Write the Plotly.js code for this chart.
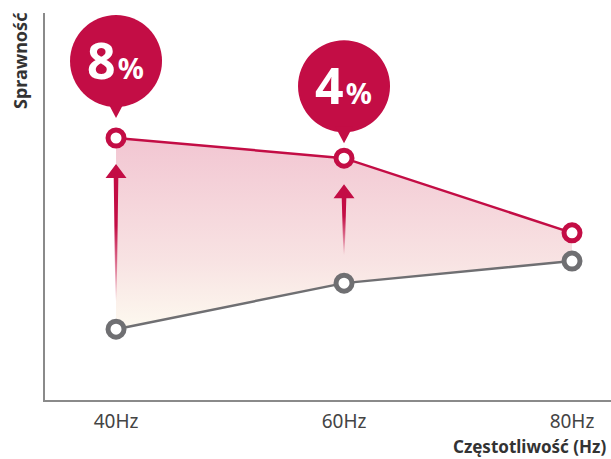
<!DOCTYPE html>
<html>
<head>
<meta charset="utf-8">
<script src="https://cdn.plot.ly/plotly-3.0.1.min.js"></script>
<style>html,body{margin:0;padding:0;background:#fff;}#chart{width:611px;height:459px;}</style>
</head>
<body>
<div id="chart"></div>
<script>
// ---- data ----
const frequencies = [40, 60, 80];
const tickLabels = ['40Hz', '60Hz', '80Hz'];
const efficiencyNew = [67.7, 62.5, 43.2];   // red series
const efficiencyOld = [18.3, 30.2, 35.9];   // gray series
const gainLabels = ['8', '4'];              // % gains at 40Hz and 60Hz
const gainIndex = [0, 1];

// ---- style ----
const RED = '#c30d45';
const GRAY = '#6f6f72';
const FONT = '"Noto Sans", "Open Sans", sans-serif';
const xRange = [33.77, 83.42];
const yRange = [0, 100];
const W = 611, H = 459, M = {l: 45, r: 0, t: 13, b: 59};
const pxX = (W - M.l - M.r) / (xRange[1] - xRange[0]);
const pxY = (H - M.t - M.b) / (yRange[1] - yRange[0]);

const traces = [];
traces.push({
  x: frequencies, y: efficiencyOld, type: 'scatter', mode: 'lines+markers',
  line: {color: GRAY, width: 2.5},
  marker: {size: 16, color: '#fff', line: {color: GRAY, width: 5}},
  hoverinfo: 'skip'
});
traces.push({
  x: frequencies, y: efficiencyNew, type: 'scatter', mode: 'lines+markers',
  fill: 'tonexty',
  fillgradient: {
    type: 'vertical',
    start: Math.min(...efficiencyOld), stop: Math.max(...efficiencyNew),
    colorscale: [[0, '#fdf9ef'], [0.35, '#f8e3e3'], [1, '#f2c6d2']]
  },
  line: {color: RED, width: 2.5},
  marker: {size: 16, color: '#fff', line: {color: RED, width: 5}},
  hoverinfo: 'skip'
});

// arrows (gradient polygons) from gray to red
const tipGap = 26 / pxY, botGap = 28 / pxY;
const hw = 10.5 / pxX, hh = 14 / pxY, sw = 2.3 / pxX, sb = 0.6 / pxX;
gainIndex.forEach(i => {
  const x = frequencies[i];
  const yt = efficiencyNew[i] - tipGap;
  const yb = efficiencyOld[i] + botGap;
  const yh = yt - hh;
  traces.push({
    x: [x, x + hw, x + sw, x + sb, x - sb, x - sw, x - hw, x],
    y: [yt, yh, yh, yb, yb, yh, yh, yt],
    type: 'scatter', mode: 'lines', fill: 'toself',
    line: {width: 0, color: 'rgba(0,0,0,0)'},
    fillgradient: {
      type: 'vertical', start: yb, stop: yt,
      colorscale: [[0, 'rgba(195,13,69,0)'], [0.3, 'rgba(195,13,69,0.6)'], [0.55, 'rgba(195,13,69,1)'], [1, 'rgba(195,13,69,1)']]
    },
    hoverinfo: 'skip'
  });
});

// callout bubbles
const bubbleOffsets = [77, 72];
const shapes = [];
const annotations = [];
gainIndex.forEach((i, k) => {
  const off = bubbleOffsets[k];
  const r = 46;
  shapes.push({
    type: 'circle', xref: 'x', yref: 'y', xsizemode: 'pixel', ysizemode: 'pixel',
    xanchor: frequencies[i], yanchor: efficiencyNew[i],
    x0: -r, x1: r, y0: off - r, y1: off + r,
    fillcolor: RED, line: {width: 0}, layer: 'above'
  });
  const tip = off - 57;
  shapes.push({
    type: 'path', xref: 'x', yref: 'y', xsizemode: 'pixel', ysizemode: 'pixel',
    xanchor: frequencies[i], yanchor: efficiencyNew[i],
    path: `M -9,${off - 40} L 0,${tip} L 9,${off - 40} Z`,
    fillcolor: RED, line: {width: 0}, layer: 'above'
  });
  annotations.push({
    x: frequencies[i], y: efficiencyNew[i], xref: 'x', yref: 'y',
    yshift: off + 1, xshift: -1, xanchor: 'center', yanchor: 'middle', showarrow: false,
    text: gainLabels[k] + '<span style="font-size:8px"> </span><span style="font-size:29px">%</span>',
    font: {family: FONT, size: 50, color: '#fff', weight: 'bold'}
  });
});

annotations.push({
  xref: 'paper', yref: 'paper', x: 0, y: 1, yshift: 2, xshift: -25, xanchor: 'center', yanchor: 'top',
  textangle: -90, showarrow: false, text: 'Sprawność',
  font: {family: FONT, size: 18, color: '#333', weight: 'bold'}
});
annotations.push({
  xref: 'paper', yref: 'paper', x: 1, y: 0, xshift: -3, yshift: -46, xanchor: 'right', yanchor: 'middle',
  showarrow: false, text: 'Częstotliwość (Hz)',
  font: {family: FONT, size: 17, color: '#333', weight: 'bold'}
});

const layout = {
  width: W, height: H, margin: M,
  paper_bgcolor: '#fff', plot_bgcolor: '#fff', showlegend: false,
  xaxis: {
    range: xRange, tickvals: frequencies, ticktext: tickLabels,
    showgrid: false, zeroline: false, showline: true, linecolor: '#8a8a8a', linewidth: 2,
    ticks: '', tickfont: {family: FONT, size: 19, color: '#444'}, ticklabelstandoff: 3
  },
  yaxis: {
    range: yRange, showgrid: false, zeroline: false, showline: true, linecolor: '#8a8a8a', linewidth: 2,
    showticklabels: false, ticks: ''
  },
  shapes: shapes,
  annotations: annotations
};

Plotly.newPlot('chart', traces, layout, {staticPlot: true, displayModeBar: false});
</script>
</body>
</html>
